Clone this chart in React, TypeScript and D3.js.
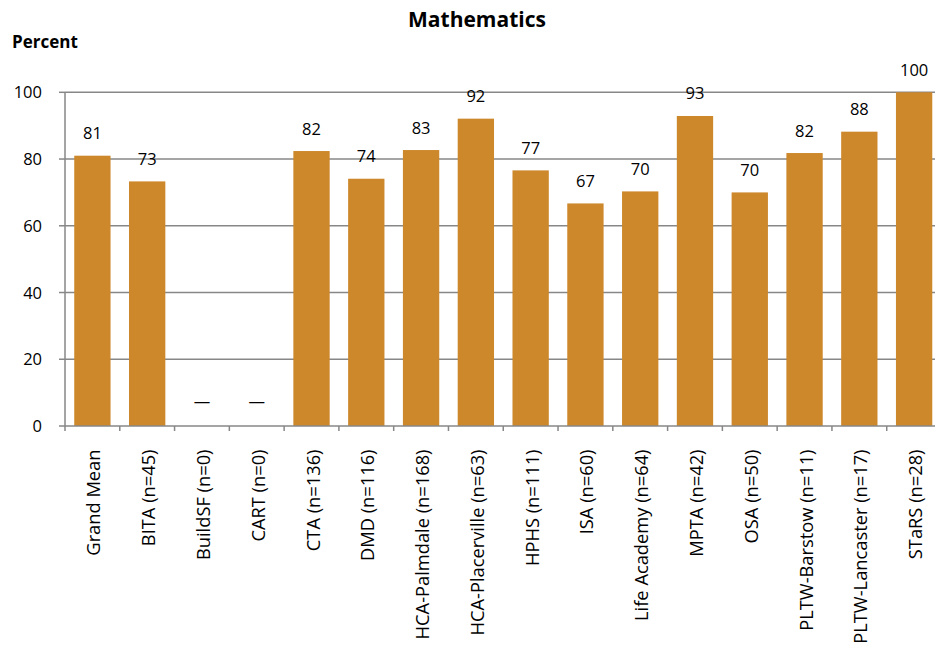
import React from "react";
import * as d3 from "d3";

const categories = [
  "Grand Mean", "BITA (n=45)", "BuildSF (n=0)", "CART (n=0)", "CTA (n=136)", "DMD (n=116)",
  "HCA-Palmdale (n=168)", "HCA-Placerville (n=63)", "HPHS (n=111)", "ISA (n=60)",
  "Life Academy (n=64)", "MPTA (n=42)", "OSA (n=50)", "PLTW-Barstow (n=11)",
  "PLTW-Lancaster (n=17)", "STaRS (n=28)",
];
const values: (number | null)[] = [81, 73.3, null, null, 82.4, 74.1, 82.7, 92.1, 76.6, 66.7, 70.3, 92.9, 70.0, 81.8, 88.2, 100];
const labels = ["81", "73", "—", "—", "82", "74", "83", "92", "77", "67", "70", "93", "70", "82", "88", "100"];
const yTicks = [0, 20, 40, 60, 80, 100];

const W = 935, H = 649;
const left = 65, right = 941.5, top = 92.3, bottom = 426;
const FONT = "'Open Sans', sans-serif";
const BAR = "#CD882C";
const GRID = "#878787";

export default function App() {
  const x = d3.scaleBand<string>().domain(categories).range([left, right]).paddingInner(0.337).paddingOuter(0.1685);
  const y = d3.scaleLinear().domain([0, 100]).range([bottom, top]);
  const step = x.step();
  return (
    <svg width={W} height={H} style={{ position: "absolute", left: 0, top: 0, background: "#fff" }} fontFamily={FONT}>
      <text x={477} y={27} textAnchor="middle" fontSize={21} fontWeight="bold">Mathematics</text>
      <text x={12} y={47.5} fontSize={17} fontWeight="bold">Percent</text>
      {yTicks.map((t) => (
        <g key={t}>
          {t > 0 && <line x1={left} x2={W} y1={y(t)} y2={y(t)} stroke={GRID} strokeWidth={1.5} />}
          <line x1={59} x2={left} y1={y(t)} y2={y(t)} stroke={GRID} strokeWidth={1.5} />
          <text x={42} y={y(t) + 6} textAnchor="end" fontSize={16.5}>{t}</text>
        </g>
      ))}
      {categories.map((c, i) => {
        const v = values[i];
        const cx = (x(c) as number) + x.bandwidth() / 2;
        return (
          <g key={c}>
            {v !== null && (
              <rect x={x(c)} y={y(v)} width={x.bandwidth()} height={bottom - y(v)} fill={BAR} />
            )}
            <text x={cx} y={v !== null ? y(v) - 16.5 : y(0) - 19.5} textAnchor="middle" fontSize={16.5}>{labels[i]}</text>
            <text transform={`translate(${cx + 8},449.5) rotate(-90)`} textAnchor="end" fontSize={18.3}>{c}</text>
          </g>
        );
      })}
      <line x1={left} x2={left} y1={top} y2={bottom} stroke={GRID} strokeWidth={1.5} />
      <line x1={left} x2={W} y1={bottom} y2={bottom} stroke={GRID} strokeWidth={1.5} />
      {d3.range(categories.length + 1).map((i) => (
        <line key={i} x1={left + i * step} x2={left + i * step} y1={bottom} y2={bottom + 5} stroke={GRID} strokeWidth={1.5} />
      ))}
    </svg>
  );
}
